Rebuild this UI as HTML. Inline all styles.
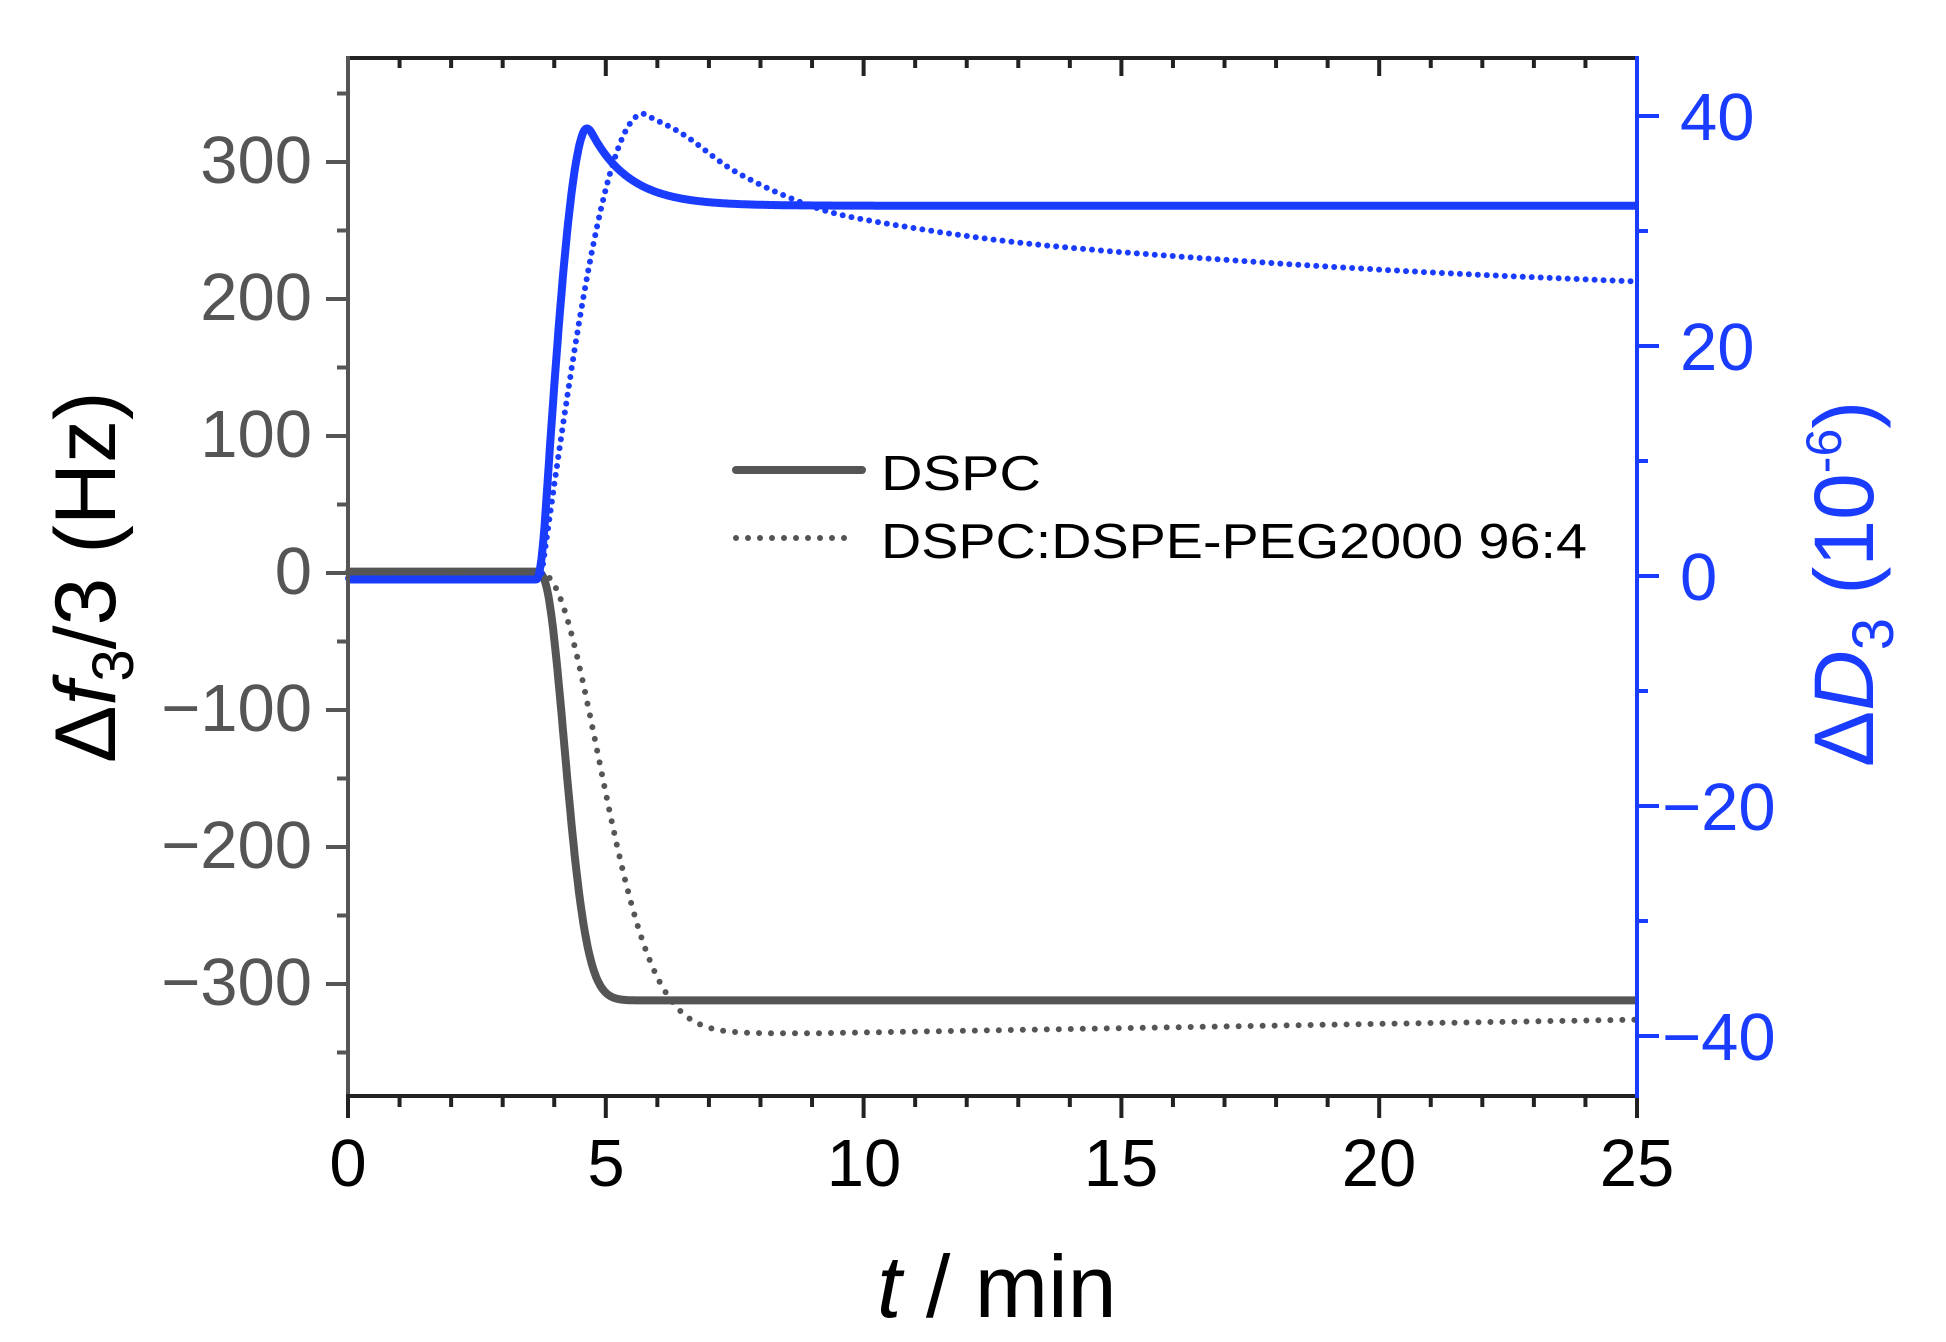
<!DOCTYPE html>
<html><head><meta charset="utf-8"><style>
html,body{margin:0;padding:0;background:#fff;}
svg{display:block;}
text{font-family:"Liberation Sans",Arial,sans-serif;}
</style></head><body>
<svg id="s" width="1946" height="1342" viewBox="0 0 1946 1342" xmlns="http://www.w3.org/2000/svg">
<rect width="1946" height="1342" fill="#fff"/>
<g id="ticks"></g>
<g id="curves" fill="none" stroke-linejoin="round"></g>
<line x1="348" y1="58" x2="1637" y2="58" stroke="#222" stroke-width="4"/>
<line x1="348" y1="56" x2="348" y2="1098" stroke="#555" stroke-width="4"/>
<line x1="346" y1="1096" x2="1637" y2="1096" stroke="#222" stroke-width="4"/>
<line x1="1637" y1="56" x2="1637" y2="1098" stroke="#1a3cff" stroke-width="4"/>
<g fill="#555" font-size="67" text-anchor="end">
<text x="312" y="183">300</text>
<text x="312" y="320">200</text>
<text x="312" y="457">100</text>
<text x="312" y="594">0</text>
<text x="312" y="731">−100</text>
<text x="312" y="868">−200</text>
<text x="312" y="1005">−300</text>
</g>
<g fill="#1a3cff" font-size="67" text-anchor="start">
<text x="1680" y="140">40</text>
<text x="1680" y="370">20</text>
<text x="1680" y="600">0</text>
<text x="1662" y="830">−20</text>
<text x="1662" y="1060">−40</text>
</g>
<g fill="#000" font-size="67" text-anchor="middle">
<text x="348" y="1186">0</text>
<text x="606" y="1186">5</text>
<text x="864" y="1186">10</text>
<text x="1121" y="1186">15</text>
<text x="1379" y="1186">20</text>
<text x="1637" y="1186">25</text>
</g>
<text x="877" y="1317" font-size="88" fill="#000"><tspan font-style="italic">t</tspan> / min</text>
<text transform="translate(115,763) rotate(-90)" font-size="86" fill="#000">Δ<tspan font-style="italic">f</tspan><tspan font-size="58" dy="18">3</tspan><tspan dy="-18">/3 (Hz)</tspan></text>
<text transform="translate(1873,767) rotate(-90)" font-size="84" fill="#1a3cff">Δ<tspan font-style="italic">D</tspan><tspan font-size="58" dy="20">3</tspan><tspan dy="-20"> (10</tspan><tspan font-size="50" dy="-32">-6</tspan><tspan dy="32">)</tspan></text>
<line x1="736" y1="470" x2="862" y2="470" stroke="#555" stroke-width="8" stroke-linecap="round"/>
<line x1="736" y1="538" x2="856" y2="538" stroke="#555" stroke-width="6" stroke-linecap="round" stroke-dasharray="0 12"/>
<text x="881" y="490" font-size="49" fill="#000" textLength="160" lengthAdjust="spacingAndGlyphs">DSPC</text>
<text x="881" y="558" font-size="49" fill="#000" textLength="706" lengthAdjust="spacingAndGlyphs">DSPC:DSPE-PEG2000 96:4</text>
</svg>
<script>
(function(){
var NS="http://www.w3.org/2000/svg";
function X(t){return 348+t*51.56;}
function YF(v){return 573-v*1.37;}
function YD(d){return 576-d*11.5;}
var tk=document.getElementById('ticks'), cv=document.getElementById('curves');
function ln(g,x1,y1,x2,y2,c,w){var l=document.createElementNS(NS,'line');l.setAttribute('x1',x1);l.setAttribute('y1',y1);l.setAttribute('x2',x2);l.setAttribute('y2',y2);l.setAttribute('stroke',c);l.setAttribute('stroke-width',w);g.appendChild(l);}
for(var t=0;t<=25;t++){var maj=t%5==0;ln(tk,X(t),1096,X(t),1096+(maj?22:11),'#222',4);if(t>0&&t<25)ln(tk,X(t),58,X(t),58+(maj?18:10),'#222',4);}
for(var v=-350;v<=350;v+=50){var maj=v%100==0;ln(tk,348,YF(v),348-(maj?22:11),YF(v),'#555',4);}
for(var d=-40;d<=40;d+=10){var maj=d%20==0;ln(tk,1637,YD(d),1637+(maj?22:11),YD(d),'#1a3cff',4);}
function path(pts,c,w,dash){var p=document.createElementNS(NS,'path');var s='';pts.forEach(function(q,i){s+=(i?'L':'M')+q[0].toFixed(1)+' '+q[1].toFixed(1);});p.setAttribute('d',s);p.setAttribute('stroke',c);p.setAttribute('stroke-width',w);if(dash){p.setAttribute('stroke-dasharray',dash);p.setAttribute('stroke-linecap','round');}cv.appendChild(p);}
function interp(cp,t){for(var i=0;i<cp.length-1;i++){if(t<=cp[i+1][0]){var a=cp[i],b=cp[i+1];var u=(t-a[0])/(b[0]-a[0]);
var p0=cp[Math.max(0,i-1)],p3=cp[Math.min(cp.length-1,i+2)];
var m1=(b[1]-p0[1])/(b[0]-p0[0])*(b[0]-a[0]),m2=(p3[1]-a[1])/(p3[0]-a[0])*(b[0]-a[0]);
var h00=2*u*u*u-3*u*u+1,h10=u*u*u-2*u*u+u,h01=-2*u*u*u+3*u*u,h11=u*u*u-u*u;return h00*a[1]+h10*m1+h01*b[1]+h11*m2;}}return cp[cp.length-1][1];}
function smooth(arr,k){var o=[];for(var i=0;i<arr.length;i++){var s=0,n=0;for(var j=i-k;j<=i+k;j++){if(j>=0&&j<arr.length){s+=arr[j];n++;}}o.push(s/n);}return o;}
var N=1200,F1=[],F2=[],D1=[],D2=[],T=[];
var dcp=[[5.73,40.2],[6.5,38.4],[7.5,35.2],[8.9,32.3],[10,31],[13,29],[17,27.5],[21,26.4],[25,25.6]];
for(var i=0;i<=N;i++){var t=25*i/N;T.push(t);
 F1.push(t<3.75?1:-312*(1-Math.exp(-Math.pow((t-3.75)/0.62,2))));
 F2.push(t<3.75?1:-336*(1-Math.exp(-Math.pow((t-3.75)/1.55,2)))+(t>9?10*(t-9)/16:0));
 var d1=t<3.75?-0.3:(t<4.65?39.2*Math.sin(Math.PI/2*(t-3.75)/0.9):32.2+7*Math.exp(-(t-4.65)/0.75));
 D1.push(d1);
 D2.push(t<3.75?-0.2:(t<5.73?40.2*Math.sin(Math.PI/2*(t-3.75)/1.98):interp(dcp,t)));}
F1=smooth(F1,4);D1=smooth(D1,4);
var a=[],b=[],c=[],e=[];
for(var i=0;i<=N;i++){a.push([X(T[i]),YF(F1[i])]);b.push([X(T[i]),YF(F2[i])]);c.push([X(T[i]),YD(D1[i])]);e.push([X(T[i]),YD(D2[i])]);}
path(b,'#555',6,'0 12');
path(a,'#555',8);
path(e,'#1a3cff',6,'0 9');
path(c,'#1a3cff',8);
})();
</script>
</body></html>
